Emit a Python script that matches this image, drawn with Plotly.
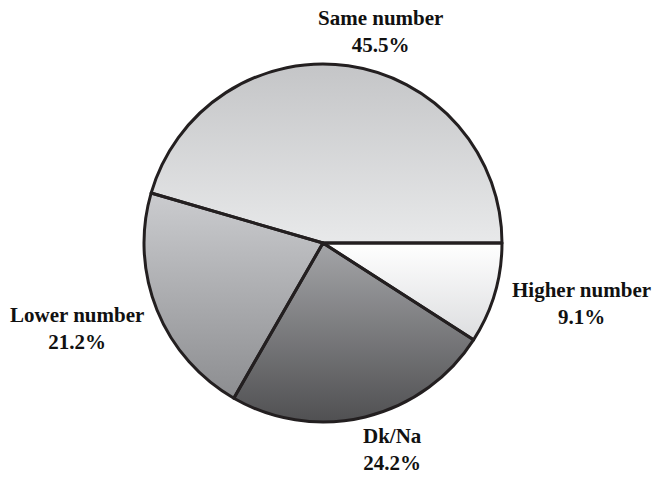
import numpy as np
import plotly.graph_objects as go

labels = ["Higher number", "Dk/Na", "Lower number", "Same number"]
values = [9.1, 24.2, 21.2, 45.5]
# vertical gradient per slice: (top colour, bottom colour)
grad_top = ["#ffffff", "#a4a5a8", "#cbcccf", "#c4c5c7"]
grad_bottom = ["#dcdddf", "#505052", "#8c8d90", "#e8e9ea"]

W, H = 654, 477
# pie placement in pixels
CX, CY, R = 323, 243, 179

label_pos = {
    "Same number": (380, 31),
    "Higher number": (581, 303),
    "Lower number": (77, 328),
    "Dk/Na": (393, 449),
}

fig = go.Figure()

# gradient-filled wedges (drawn underneath the pie trace, derived from the same values)
total = sum(values)
start = 0.0  # 3 o'clock, clockwise
cy_data = H - CY
for lab, val, ct, cb in zip(labels, values, grad_top, grad_bottom):
    span = 360.0 * val / total
    th = np.radians(np.linspace(start, start - span, 120))
    xs = np.concatenate([[CX], CX + R * np.cos(th), [CX]])
    ys = np.concatenate([[cy_data], cy_data + R * np.sin(th), [cy_data]])
    fig.add_trace(go.Scatter(
        x=xs, y=ys, mode="lines", fill="toself",
        line=dict(width=0, color="rgba(0,0,0,0)"),
        fillgradient=dict(type="vertical", colorscale=[[0, cb], [1, ct]]),
        hoverinfo="skip", showlegend=False,
    ))
    start -= span

fig.add_trace(go.Pie(
    labels=labels,
    values=values,
    sort=False,
    direction="clockwise",
    rotation=90,
    textinfo="none",
    hoverinfo="label+percent",
    marker=dict(colors=["rgba(0,0,0,0)"] * len(labels),
                line=dict(color="#231f20", width=3)),
    domain=dict(x=[(CX - R) / W, (CX + R) / W], y=[(H - CY - R) / H, (H - CY + R) / H]),
    showlegend=False,
))

annotations = []
for lab, val in zip(labels, values):
    x, y = label_pos[lab]
    annotations.append(dict(
        x=x / W, y=1 - y / H, xref="paper", yref="paper",
        text=f"<b>{lab}</b><br><b>{val:.1f}%</b>",
        showarrow=False, align="center",
        xanchor="center", yanchor="middle",
        font=dict(family="Times New Roman", size=21, color="#111111"),
    ))

fig.update_layout(
    width=W, height=H,
    margin=dict(l=0, r=0, t=0, b=0),
    paper_bgcolor="white", plot_bgcolor="white",
    xaxis=dict(range=[0, W], visible=False, fixedrange=True, domain=[0, 1]),
    yaxis=dict(range=[0, H], visible=False, fixedrange=True, domain=[0, 1]),
    annotations=annotations,
)

fig.write_html("out.html")
